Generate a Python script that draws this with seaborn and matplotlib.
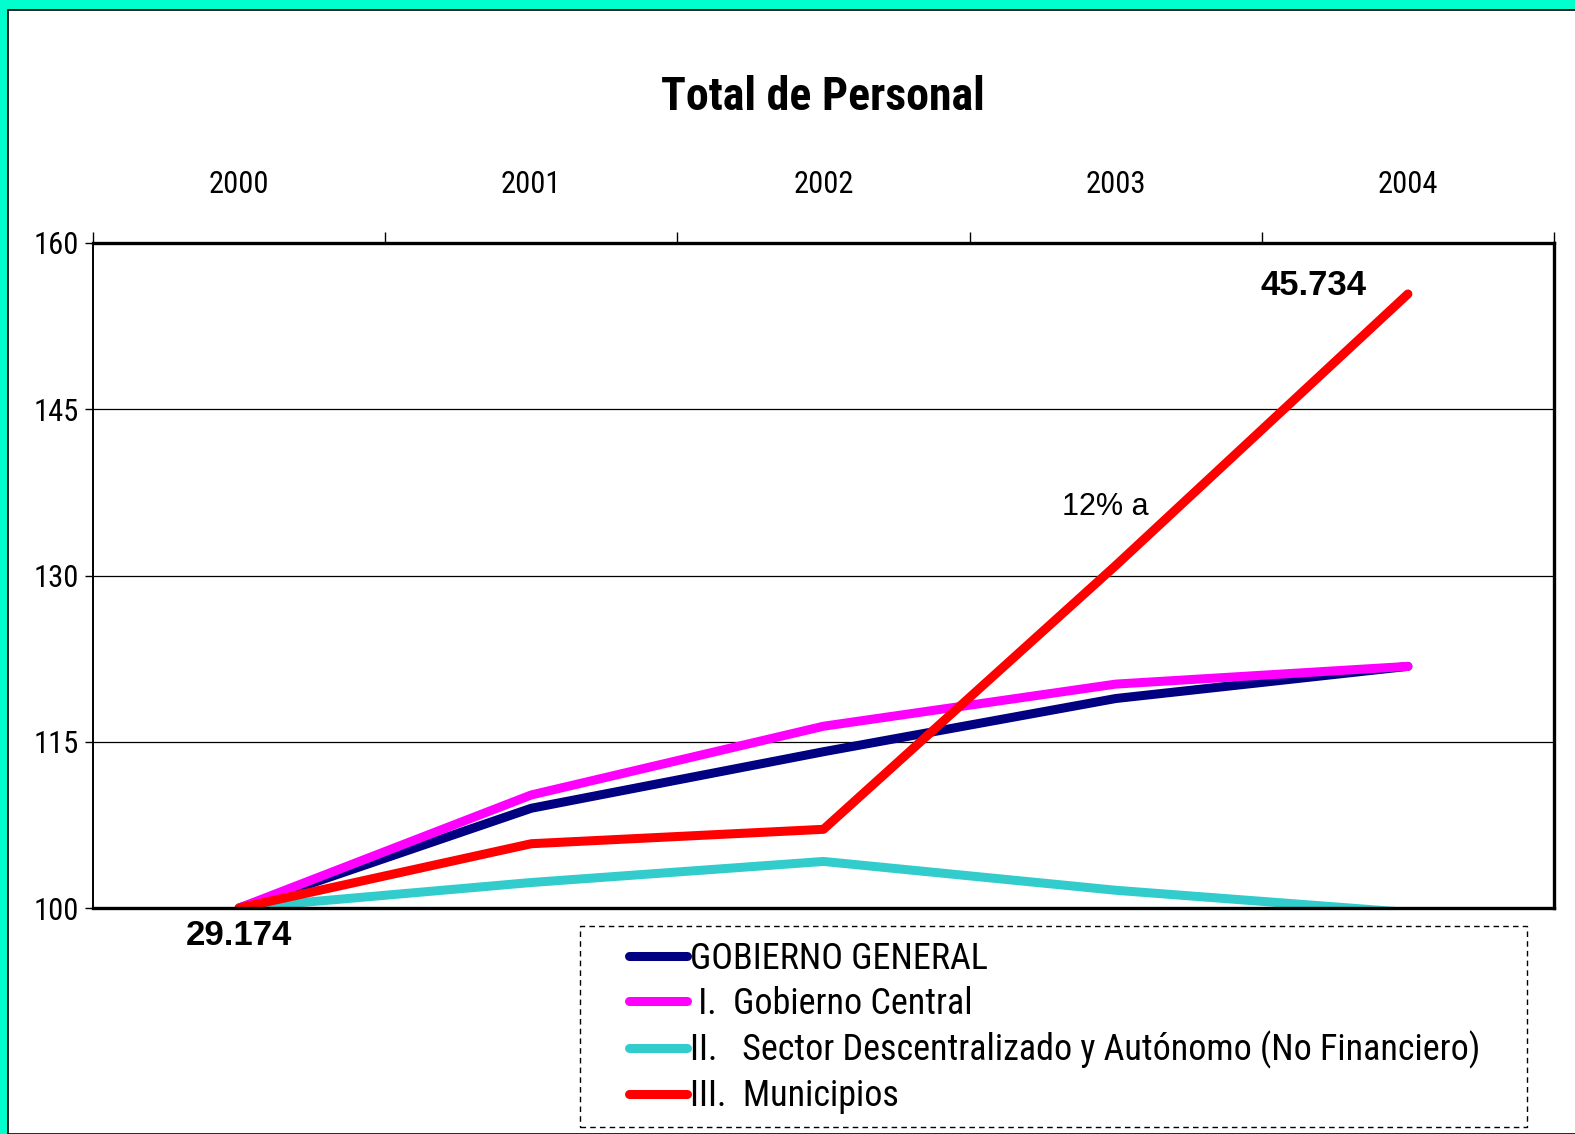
import numpy as np
import pandas as pd
import matplotlib
matplotlib.use("Agg")
import matplotlib.pyplot as plt
import seaborn as sns
from matplotlib import font_manager
from matplotlib.patches import Rectangle

# data (index 2000 = 100)
years = [2000, 2001, 2002, 2003, 2004]
gobierno_general = [100, 109.0, 114.1, 118.9, 121.8]
gobierno_central = [100, 110.2, 116.4, 120.2, 121.8]
sector_descentralizado = [100, 102.3, 104.2, 101.6, 99.6]
municipios = [100, 105.8, 107.1, 130.9, 155.4]

labels = ["GOBIERNO GENERAL", " I.  Gobierno Central",
          "II.   Sector Descentralizado y Autónomo (No Financiero)",
          "III.  Municipios"]
colors = ["#000080", "#FF00FF", "#33CCCC", "#FF0000"]
series = [gobierno_general, gobierno_central, sector_descentralizado, municipios]

y_ticks = [100, 115, 130, 145, 160]

sns.set_theme(style="white")

# pick a condensed face if one is installed
installed = {f.name for f in font_manager.fontManager.ttflist}
narrow_name = "Liberation Sans"
for cand in ["Liberation Sans Narrow", "Arial Narrow", "DejaVu Sans Condensed", "Roboto Condensed"]:
    if cand in installed:
        narrow_name = cand
        break
narrow = [narrow_name, "DejaVu Sans"]
arial = ["Liberation Sans", "DejaVu Sans"]
plt.rcParams['font.family'] = narrow
plt.rcParams['text.color'] = "black"
plt.rcParams['axes.labelcolor'] = "black"
plt.rcParams['xtick.color'] = "black"
plt.rcParams['ytick.color'] = "black"

W, H = 1575, 1134
fig = plt.figure(figsize=(15.75, 11.34), dpi=100)
fig.patch.set_facecolor("#00FFCC")
# white page with thin black edge, teal strip shows at top and left
fig.patches.append(Rectangle((8 / W, 0), 1, 1 - 10 / H, transform=fig.transFigure,
                             facecolor="white", edgecolor="black", linewidth=1.2, zorder=-5))
# dashed legend box
fig.patches.append(Rectangle((580 / W, 1 - 1127 / H), (1527 - 580) / W, (1127 - 926) / H,
                             transform=fig.transFigure, facecolor="white", edgecolor="black",
                             linewidth=1.0, linestyle=(0, (4, 3)), zorder=-4))

ax = fig.add_axes([93 / W, 1 - 908 / H, (1554 - 93) / W, (908 - 243) / H])
ax.set_facecolor("white")

for vals, lab, col in zip(series, labels, colors):
    sns.lineplot(x=years, y=vals, ax=ax, color=col, linewidth=6.5, label=lab,
                 solid_capstyle="round")

ax.set_xlim(1999.5, 2004.5)
ax.set_ylim(100, 160)
ax.set_yticks(y_ticks)
ax.set_yticklabels([str(t) for t in y_ticks], fontsize=22)
ax.grid(False)
for t in [115, 130, 145]:
    ax.axhline(t, color="black", linewidth=0.9, zorder=0.5)

ax.xaxis.tick_top()
ax.set_xticks(years)
ax.set_xticklabels([str(y) for y in years], fontsize=22)
ax.set_xticks(np.arange(1999.5, 2004.6, 1.0), minor=True)
ax.tick_params(axis="x", which="major", length=0, pad=32)
ax.tick_params(axis="x", which="minor", top=True, bottom=False, length=8, width=1, color="black")
ax.tick_params(axis="y", which="major", left=True, length=6, width=1, color="black", pad=4)

for side in ["top", "bottom", "right"]:
    ax.spines[side].set_linewidth(2.4)
    ax.spines[side].set_color("black")
ax.spines["left"].set_linewidth(1.4)
ax.spines["left"].set_color("black")

fig.text(823 / W, 1 - 97 / H, "Total de Personal", ha="center", va="center",
         fontsize=33, fontweight="bold", family=narrow)

ax.annotate("29.174", xy=(2000, 100), xytext=(0, -20), textcoords="offset points",
            ha="center", va="center", fontsize=25, fontweight="bold", family=arial,
            annotation_clip=False)
ax.annotate("45.734", xy=(2004, 155.4), xytext=(-68, 6), textcoords="offset points",
            ha="center", va="center", fontsize=25, fontweight="bold", family=arial)
ax.text(2002.966, 136.15, "12% a", ha="center", va="center", fontsize=22, family=arial)

leg = ax.legend(loc="upper left", bbox_to_anchor=(629 / W, 1 - 941 / H),
                bbox_transform=fig.transFigure, fontsize=26, frameon=False,
                handlelength=1.6, handletextpad=0.1, labelspacing=0.25,
                borderpad=0, borderaxespad=0)
for h in leg.get_lines():
    h.set_linewidth(6.5)
    h.set_solid_capstyle("round")

fig.savefig("out.png", dpi=100, facecolor=fig.get_facecolor())
